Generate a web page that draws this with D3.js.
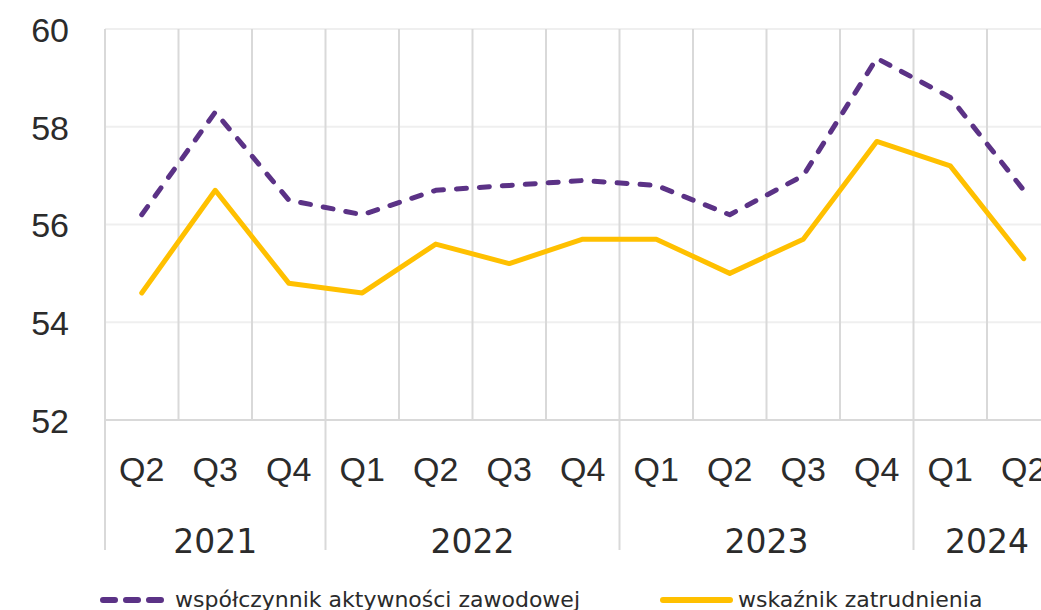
<!DOCTYPE html>
<html>
<head>
<meta charset="utf-8">
<script src="https://cdn.jsdelivr.net/npm/d3@7"></script>
<style>
  html, body { margin: 0; padding: 0; background: #fff; overflow: hidden; }
  svg { display: block; font-family: "DejaVu Sans", sans-serif; }
  .tick text { fill: #2b2b2b; }
</style>
</head>
<body>
<svg class="chart"></svg>
<script>
(function() {
  'use strict';

var quarters = ['Q2', 'Q3', 'Q4', 'Q1', 'Q2', 'Q3', 'Q4', 'Q1', 'Q2', 'Q3', 'Q4', 'Q1', 'Q2'];
var years = ['2021', '2022', '2023', '2024'];
var yearCounts = [3, 4, 4, 2];
var activity = [56.2, 58.3, 56.5, 56.2, 56.7, 56.8, 56.9, 56.8, 56.2, 57.0, 59.4, 58.6, 56.7];
var employment = [54.6, 56.7, 54.8, 54.6, 55.6, 55.2, 55.7, 55.7, 55.0, 55.7, 57.7, 57.2, 55.3];
var yTicks = [52, 54, 56, 58, 60];
var seriesNames = ['współczynnik aktywności zawodowej', 'wskaźnik zatrudnienia'];

var width = 1041,
    height = 610;

var left = 105,
    top = 29,
    bottom = 420,
    band = 73.5;

var purple = '#5b3286',
    yellow = '#ffc000',
    ink = '#2b2b2b';

var x = d3.scaleBand()
    .domain(d3.range(quarters.length))
    .range([left, left + band * quarters.length]);

var y = d3.scaleLinear()
    .domain([52, 60])
    .range([bottom, top]);

var chart = d3.select('.chart')
    .attr('width', width)
    .attr('height', height);

// horizontal grid
chart.append('g')
  .selectAll('line')
    .data(yTicks)
  .enter().append('line')
    .attr('x1', left)
    .attr('x2', width)
    .attr('y1', function(d) { return y(d); })
    .attr('y2', function(d) { return y(d); })
    .attr('stroke', function(d) { return d === 52 ? '#d9d9d9' : '#efefef'; })
    .attr('stroke-width', 2);

// vertical grid, one per category boundary
chart.append('g')
  .selectAll('line')
    .data(d3.range(quarters.length))
  .enter().append('line')
    .attr('x1', function(i) { return x(i); })
    .attr('x2', function(i) { return x(i); })
    .attr('y1', top)
    .attr('y2', bottom)
    .attr('stroke', '#d9d9d9')
    .attr('stroke-width', 2);

// year separators below the axis
var starts = [0];
yearCounts.forEach(function(c, i) { starts.push(starts[i] + c); });

chart.append('g')
  .selectAll('line')
    .data(starts.slice(0, years.length))
  .enter().append('line')
    .attr('x1', function(i) { return x(i); })
    .attr('x2', function(i) { return x(i); })
    .attr('y1', bottom)
    .attr('y2', 550)
    .attr('stroke', '#d9d9d9')
    .attr('stroke-width', 2);

// y axis labels
var yAxis = d3.axisLeft(y)
    .tickValues(yTicks)
    .tickSize(0)
    .tickPadding(0);

chart.append('g')
    .attr('transform', 'translate(69,0)')
    .call(yAxis)
    .call(function(g) { g.select('.domain').remove(); })
    .selectAll('text')
      .style('font-size', '34px')
      .attr('dy', '0.36em');

// quarter labels
var xAxis = d3.axisBottom(x)
    .tickFormat(function(i) { return quarters[i]; })
    .tickSize(0)
    .tickPadding(0);

chart.append('g')
    .attr('transform', 'translate(0,' + 457 + ')')
    .call(xAxis)
    .call(function(g) { g.select('.domain').remove(); })
    .selectAll('text')
      .style('font-size', '34px')
      .attr('dy', '0.71em');

// year labels
chart.append('g')
  .selectAll('text')
    .data(years)
  .enter().append('text')
    .attr('x', function(d, i) {
      var a = x(starts[i]);
      var b = x(starts[i + 1] - 1) + x.bandwidth();
      return (a + b) / 2;
    })
    .attr('y', 553)
    .attr('text-anchor', 'middle')
    .style('font-size', '33px')
    .style('fill', ink)
    .text(function(d) { return d; });

var line = d3.line()
    .x(function(d, i) { return x(i) + x.bandwidth() / 2; })
    .y(function(d) { return y(d); });

chart.append('path')
    .datum(employment)
    .attr('d', line)
    .attr('fill', 'none')
    .attr('stroke', yellow)
    .attr('stroke-width', 5)
    .attr('stroke-linejoin', 'round')
    .attr('stroke-linecap', 'round');

chart.append('path')
    .datum(activity)
    .attr('d', line)
    .attr('fill', 'none')
    .attr('stroke', purple)
    .attr('stroke-width', 5)
    .attr('stroke-dasharray', '10,13')
    .attr('stroke-linejoin', 'round')
    .attr('stroke-linecap', 'round');

// legend
var legend = chart.append('g');

legend.append('line')
    .attr('x1', 103).attr('x2', 161)
    .attr('y1', 600).attr('y2', 600)
    .attr('stroke', purple)
    .attr('stroke-width', 6)
    .attr('stroke-dasharray', '12,11')
    .attr('stroke-linecap', 'round');

legend.append('text')
    .attr('x', 175)
    .attr('y', 607)
    .style('font-size', '22px')
    .style('fill', ink)
    .text(seriesNames[0]);

legend.append('line')
    .attr('x1', 663).attr('x2', 730)
    .attr('y1', 600).attr('y2', 600)
    .attr('stroke', yellow)
    .attr('stroke-width', 6)
    .attr('stroke-linecap', 'round');

legend.append('text')
    .attr('x', 738)
    .attr('y', 607)
    .style('font-size', '22px')
    .style('fill', ink)
    .text(seriesNames[1]);
}());
</script>
</body>
</html>
